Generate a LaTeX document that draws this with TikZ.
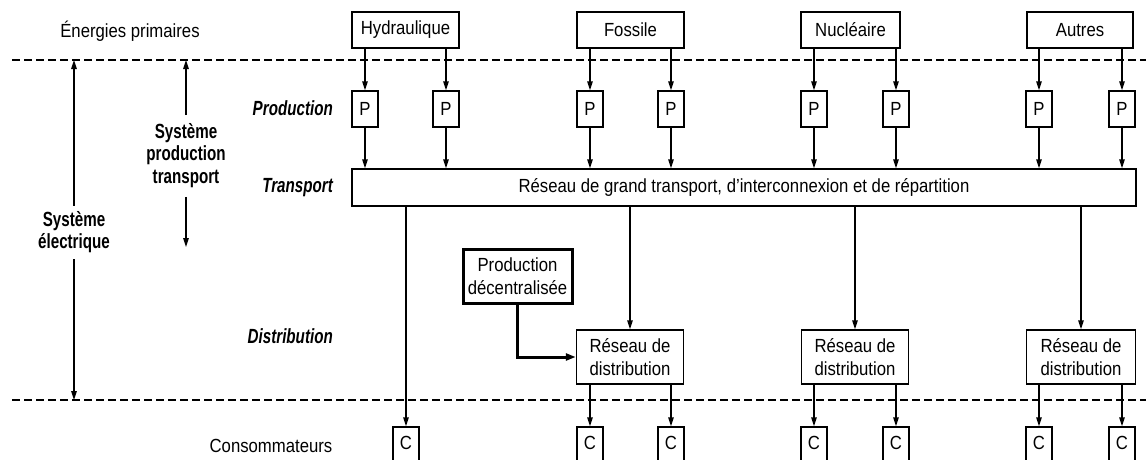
\documentclass[tikz,border=0pt]{standalone}
\usepackage{fontspec}
\setmainfont{Liberation Sans}[FakeStretch=0.88]
\newfontfamily\boldnarrow{Liberation Sans Bold}[FakeStretch=0.74]
\newfontfamily\bolditnarrow{Liberation Sans Bold Italic}[FakeStretch=0.74]
\usetikzlibrary{arrows.meta}
\begin{document}
\begin{tikzpicture}[x=1pt,y=-1pt,
  every node/.style={font=\fontsize{19}{23}\selectfont, inner sep=0pt},
  box/.style={draw, line width=1.5pt, align=center},
  topbox/.style={box, minimum height=36pt},
  pbox/.style={box, minimum width=26pt, minimum height=36pt},
  cbox/.style={box, minimum width=26pt, minimum height=40pt, text depth=8pt},
  rdbox/.style={box, minimum width=107pt, minimum height=54pt},
  conn/.style={line width=1.5pt, -{Triangle[length=9pt,width=5.5pt]}},
  thickconn/.style={line width=3pt, -{Triangle[length=10pt,width=7pt]}},
  sepline/.style={line width=1.5pt, dash pattern=on 8pt off 4pt},
  lbl/.style={font=\fontsize{20.5}{23}\selectfont\bolditnarrow, anchor=east},
  blbl/.style={font=\fontsize{20.5}{22.5}\selectfont\boldnarrow, align=center},
]
\clip (0,0) rectangle (1146,459);

% separators
\coordinate (tl) at (12,60);
\coordinate (tr) at (1146,60);
\coordinate (bl) at (12,400);
\coordinate (br) at (1146,400);
\draw[sepline] (tl) -- (tr);
\draw[sepline] (bl) -- (br);

% primary energies
\node (ep) at (130,31) {Énergies primaires};
\node[topbox, minimum width=107pt] (hyd) at (405.5,30) {Hydraulique};
\node[topbox, minimum width=107pt] (fos) at (630.5,30) {Fossile};
\node[topbox, minimum width=99pt] (nuc) at (850.5,30) {Nucléaire};
\node[topbox, minimum width=106pt] (aut) at (1080,30) {Autres};

% production
\foreach \i/\x in {1/365,2/446,3/590,4/671,5/814,6/896,7/1039,8/1122}
  \node[pbox] (p\i) at (\x,109) {P};

% transport
\node[box, minimum width=784pt, minimum height=37pt] (trn) at (744,187.5)
  {Réseau de grand transport, d'interconnexion et de répartition};

% distribution
\node[rdbox] (rd1) at (630,357) {Réseau de\\distribution};
\node[rdbox] (rd2) at (855,357) {Réseau de\\distribution};
\node[rdbox, minimum width=109pt] (rd3) at (1081,357) {Réseau de\\distribution};
\node[box, line width=3pt, minimum width=109pt, minimum height=54pt] (pd) at (517.5,276)
  {Production\\décentralisée};

% consumers
\foreach \i/\x in {1/406,2/590,3/671,4/814,5/896,6/1039,7/1122}
  \node[cbox] (c\i) at (\x,447) {C};

% left labels
\node[lbl] (lprod) at (333,108) {Production};
\node[lbl] (ltrn) at (333,188) {Transport};
\node[lbl] (ldist) at (333,336) {Distribution};
\node (lcons) at (271,446) {Consommateurs};
\node[blbl] (spt) at (186,155.5) {Système\\production\\transport};
\node[blbl] (se) at (74,232) {Système\\électrique};
\coordinate (sptend) at (186,247);

% arrows: energies -> P
\foreach \s/\p in {hyd/p1,hyd/p2,fos/p3,fos/p4,nuc/p5,nuc/p6,aut/p7,aut/p8}
  \draw[conn] (\s.south -| \p.north) -- (\p.north);
% arrows: P -> transport
\foreach \p in {p1,p2,p3,p4,p5,p6,p7,p8}
  \draw[conn] (\p.south) -- (\p.south |- trn.north);
% transport -> consumers / distribution
\draw[conn] (trn.south -| c1.north) -- (c1.north);
\foreach \r in {rd1,rd2,rd3}
  \draw[conn] (trn.south -| \r.north) -- (\r.north);
% distribution -> consumers
\foreach \r/\c in {rd1/c2,rd1/c3,rd2/c4,rd2/c5,rd3/c6,rd3/c7}
  \draw[conn] (\r.south -| \c.north) -- (\c.north);
% decentralised production
\draw[thickconn] (pd.south) |- (rd1.west);

% system arrows
\draw[conn] ([yshift=8pt]spt.north) -- (spt.north |- tl);
\draw[conn] ([yshift=-9pt]spt.south) -- (sptend);
\draw[conn] ([yshift=5pt]se.north) -- (se.north |- tl);
\draw[conn] ([yshift=-6pt]se.south) -- (se.south |- bl);
\end{tikzpicture}
\end{document}
